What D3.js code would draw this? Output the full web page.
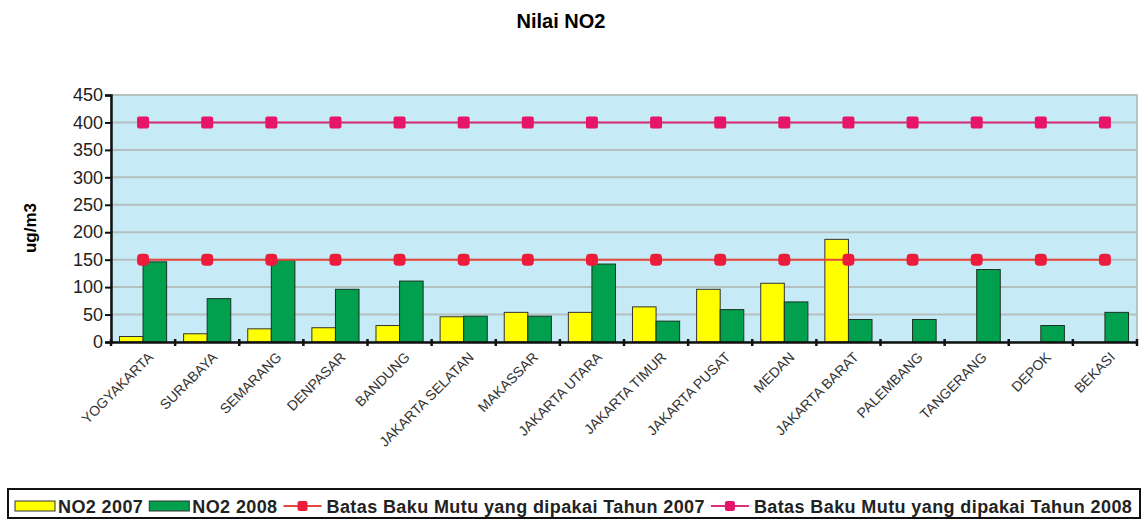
<!DOCTYPE html>
<html>
<head>
<meta charset="utf-8">
<script src="https://cdn.jsdelivr.net/npm/d3@7"></script>
<style>
  body { margin: 0; background: #fff; }
  svg { display: block; font-family: Arial, "Liberation Sans", sans-serif; }
</style>
</head>
<body>
<svg></svg>
<script>
// ukuran
var width = 1144;
var height = 522;

// data
var kota = ["YOGYAKARTA", "SURABAYA", "SEMARANG", "DENPASAR", "BANDUNG", "JAKARTA SELATAN",
  "MAKASSAR", "JAKARTA UTARA", "JAKARTA TIMUR", "JAKARTA PUSAT", "MEDAN", "JAKARTA BARAT",
  "PALEMBANG", "TANGERANG", "DEPOK", "BEKASI"];
var no2_2007 = [10, 15, 24, 26, 30, 46, 54, 54, 64, 96, 107, 187, 0, 0, 0, 0];
var no2_2008 = [146, 79, 149, 96, 111, 47, 47, 142, 38, 59, 73, 41, 41, 132, 30, 54];
var batas2007 = [150, 150, 150, 150, 150, 150, 150, 150, 150, 150, 150, 150, 150, 150, 150, 150];
var batas2008 = [400, 400, 400, 400, 400, 400, 400, 400, 400, 400, 400, 400, 400, 400, 400, 400];
var yTicks = [0, 50, 100, 150, 200, 250, 300, 350, 400, 450];

// batas area plot
var pLeft = 111, pRight = 1137, pTop = 95, pBottom = 342;

var svg = d3.select("svg")
  .attr("width", width)
  .attr("height", height);

var x = d3.scaleBand().domain(kota).range([pLeft, pRight]).padding(0);
var x1 = d3.scaleBand().domain(["2007", "2008"]).range([0, x.bandwidth()]).paddingInner(0).paddingOuter(0.36);
var y = d3.scaleLinear().domain([0, 450]).range([pBottom, pTop]);

// judul
svg.append("text")
  .attr("x", 561).attr("y", 28)
  .attr("text-anchor", "middle")
  .attr("font-size", 20).attr("font-weight", "bold")
  .text("Nilai NO2");

// label sumbu y
svg.append("text")
  .attr("transform", "translate(36,228) rotate(-90)")
  .attr("text-anchor", "middle")
  .attr("font-size", 17).attr("font-weight", "bold")
  .text("ug/m3");

// latar plot
svg.append("rect")
  .attr("x", pLeft).attr("y", pTop)
  .attr("width", pRight - pLeft).attr("height", pBottom - pTop)
  .attr("fill", "#c6ebf6")
  .attr("stroke", "#a8b4b8").attr("stroke-width", 1.5);

// garis grid
svg.selectAll(".grid")
  .data(yTicks.filter(function(d) { return d > 0; }))
  .enter().append("line")
  .attr("x1", pLeft).attr("x2", pRight)
  .attr("y1", function(d) { return y(d); })
  .attr("y2", function(d) { return y(d); })
  .attr("stroke", "#b4bfc0").attr("stroke-width", 2);

// batang
var g = svg.selectAll(".kota")
  .data(kota)
  .enter().append("g")
  .attr("transform", function(d) { return "translate(" + x(d) + ",0)"; });

g.filter(function(d, i) { return no2_2007[i] > 0; })
  .append("rect")
  .attr("x", x1("2007"))
  .attr("y", function(d) { return y(no2_2007[kota.indexOf(d)]); })
  .attr("width", x1.bandwidth())
  .attr("height", function(d) { return pBottom - y(no2_2007[kota.indexOf(d)]); })
  .attr("fill", "#ffff00").attr("stroke", "#333").attr("stroke-width", 1);

g.append("rect")
  .attr("x", x1("2008"))
  .attr("y", function(d, i) { return y(no2_2008[i]); })
  .attr("width", x1.bandwidth())
  .attr("height", function(d, i) { return pBottom - y(no2_2008[i]); })
  .attr("fill", "#00a04e").attr("stroke", "#1a3322").attr("stroke-width", 1);

// garis batas baku mutu
var cx = function(d, i) { return x(kota[i]) + x.bandwidth() / 2; };
var line = d3.line().x(cx).y(function(d) { return y(d); });

svg.append("path").datum(batas2008)
  .attr("d", line).attr("fill", "none")
  .attr("stroke", "#d8307a").attr("stroke-width", 2);
svg.append("path").datum(batas2007)
  .attr("d", line).attr("fill", "none")
  .attr("stroke", "#e5483e").attr("stroke-width", 2);

svg.selectAll(".m2008").data(batas2008).enter().append("rect")
  .attr("x", function(d, i) { return cx(d, i) - 6; })
  .attr("y", function(d) { return y(d) - 6; })
  .attr("width", 12).attr("height", 12).attr("rx", 2)
  .attr("fill", "#e6156a");
svg.selectAll(".m2007").data(batas2007).enter().append("rect")
  .attr("x", function(d, i) { return cx(d, i) - 6; })
  .attr("y", function(d) { return y(d) - 6; })
  .attr("width", 12).attr("height", 12).attr("rx", 4)
  .attr("fill", "#ee1c3c");

// sumbu y
var yAxis = svg.append("g")
  .attr("transform", "translate(" + pLeft + ",0)")
  .call(d3.axisLeft(y).tickValues(yTicks).tickSize(6).tickPadding(2));
yAxis.select(".domain").attr("stroke", "#111").attr("stroke-width", 2.5);
yAxis.selectAll(".tick line").attr("stroke", "#111").attr("stroke-width", 2);
yAxis.selectAll(".tick text")
  .attr("font-size", 18).attr("fill", "#222")
  .attr("font-family", "Arial, 'Liberation Sans', sans-serif");

// sumbu x
var xAxis = svg.append("g")
  .attr("transform", "translate(0," + pBottom + ")")
  .call(d3.axisBottom(x).tickSize(0).tickFormat(""));
xAxis.select(".domain").attr("stroke", "#111").attr("stroke-width", 2.5);
xAxis.selectAll(".batas")
  .data(d3.range(kota.length + 1))
  .enter().append("line")
  .attr("x1", function(d) { return pLeft + d * x.step(); })
  .attr("x2", function(d) { return pLeft + d * x.step(); })
  .attr("y1", -3).attr("y2", 4)
  .attr("stroke", "#111").attr("stroke-width", 2.5);

xAxis.selectAll(".label")
  .data(kota)
  .enter().append("text")
  .attr("transform", function(d) {
    return "translate(" + (x(d) + x.bandwidth() / 2 + 4) + ",9) rotate(-45)";
  })
  .attr("text-anchor", "end")
  .attr("dy", "0.71em")
  .attr("font-size", 14).attr("fill", "#333")
  .text(function(d) { return d; });

// legenda
svg.append("rect")
  .attr("x", 8).attr("y", 489)
  .attr("width", 1132).attr("height", 29)
  .attr("fill", "#fff").attr("stroke", "#111").attr("stroke-width", 2);

var legenda = [
  { nama: "NO2 2007", tipe: "bar", warna: "#ffff00" },
  { nama: "NO2 2008", tipe: "bar", warna: "#00a04e" },
  { nama: "Batas Baku Mutu yang dipakai Tahun 2007", tipe: "line", warna: "#e5483e", mk: "#ee1c3c" },
  { nama: "Batas Baku Mutu yang dipakai Tahun 2008", tipe: "line", warna: "#d8307a", mk: "#e6156a" }
];
var lx = 15, ly = 506;
legenda.forEach(function(it) {
  if (it.tipe === "bar") {
    svg.append("rect").attr("x", lx).attr("y", ly - 5).attr("width", 40).attr("height", 10)
      .attr("fill", it.warna).attr("stroke", "#333").attr("stroke-width", 1);
  } else {
    svg.append("line").attr("x1", lx).attr("x2", lx + 38).attr("y1", ly).attr("y2", ly)
      .attr("stroke", it.warna).attr("stroke-width", 2);
    svg.append("rect").attr("x", lx + 14).attr("y", ly - 5).attr("width", 10).attr("height", 10)
      .attr("rx", 2).attr("fill", it.mk);
  }
  var t = svg.append("text")
    .attr("x", lx + 43).attr("y", ly + 6.5)
    .attr("font-size", 18).attr("font-weight", "bold").attr("fill", "#222")
    .attr("letter-spacing", 0.4)
    .text(it.nama);
  lx = lx + 43 + t.node().getComputedTextLength() + 6;
});
</script>
</body>
</html>
